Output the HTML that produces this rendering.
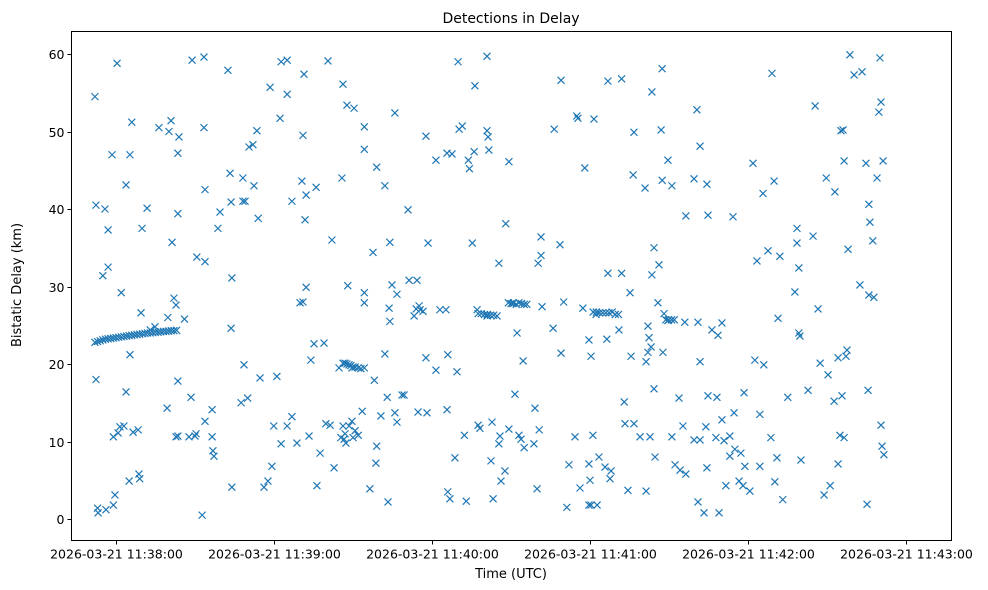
<!DOCTYPE html>
<html><head><meta charset="utf-8"><title>Detections in Delay</title>
<style>
html,body{margin:0;padding:0;background:#fff;}
svg{display:block;font-family:"DejaVu Sans","Liberation Sans",sans-serif;}
</style></head>
<body>
<svg id="chart" width="988" height="590" viewBox="0 0 988 590" xmlns="http://www.w3.org/2000/svg">
<rect width="988" height="590" fill="#fff"/>
<text x="511" y="23" text-anchor="middle" font-size="14">Detections in Delay</text>
<text x="511" y="578" text-anchor="middle" font-size="13">Time (UTC)</text>
<text x="0" y="0" transform="translate(21,285) rotate(-90)" text-anchor="middle" font-size="13">Bistatic Delay (km)</text>
<g id="marks"></g>
<g id="axes"></g>
<rect x="71.5" y="31.5" width="880" height="509" fill="none" stroke="#000" stroke-width="1"/>
</svg>
<script>
// Time in seconds relative to 2026-03-21 11:38:00 UTC
const xTickValues=[0,60,120,180,240,300];
const xTickLabels=["2026-03-21 11:38:00","2026-03-21 11:39:00","2026-03-21 11:40:00","2026-03-21 11:41:00","2026-03-21 11:42:00","2026-03-21 11:43:00"];
const yTickValues=[0,10,20,30,40,50,60];
const yTickLabels=["0","10","20","30","40","50","60"];
const times=[
-8,-7.6,-7.6,-7,-6.8,-5,-4.2,-3,-3,-3.8,-1,-1,0.4,-0.4,2,3.8,3.8,5.3,6,5,-1.5,5.3,6.5,8.4,8.7,9,9.9,11.8,9.5,1.5,3,0.8,
-8,-7,-6,-5,-4,-3,-2,-1,0,1,2,3,4,5,6,7,8,9,10,11,12,13,14,15,16,17,18,19,20,21,22,23,13,
14.8,16.3,19.4,20.9,23.5,23.9,20.1,21.3,22,22.8,23.5,23.5,26,19.7,22.8,23.5,27.7,28.5,28.9,30,30.4,30.7,32.7,33.4,33.4,33.8,33.8,33.8,36.5,36.5,36.8,37.2,38.7,39.5,42.5,43.3,43.7,44,44,43.7,47.5,48.2,48.2,49,48.6,50,50.5,52,52.4,53.5,54,54.7,56.2,57.7,58.5,59.2,59.9,
61.1,62.3,62.7,62.7,65,65,65,66.8,66.8,68.7,69.9,70.6,71,71,71.8,72.2,72.2,71.4,73.3,74,75.2,76,76.3,77.5,79,79.7,80.5,81.3,82,82.8,84.7,85.8,86.2,86.2,86.6,87,87.3,87.7,88,88.5,90,90.4,90.8,89.6,92,93.5,94.3,94.3,94.3,94.3,96.4,97.6,98.1,99,99,98.7,100.6,102.1,102.1,103,103.3,104,104,103.7,104.8,105.9,105.9,106.7,106.7,108.6,109.4,110.9,111.3,113.2,114,114.3,114.7,115.1,115.5,116.6,117.7,117.7,118.1,118.5,
85.4,86.2,87,87.7,88.5,89.2,90,90.8,92,93,94.3,89.6,
121.5,121.5,123,125.3,125.7,125.7,126,126,126.8,127.6,128.7,129.5,129.9,130.3,131.5,132.3,133,133.8,134.2,135.3,136,137.1,137.5,138.2,
136.3,137.5,138.7,139.9,141,142.2,143.4,144.7,
140.9,140.9,140.9,141.3,141.6,142.4,142.8,143.2,145.4,145.4,146.2,145.8,147.7,149.2,149.2,
148,149,150,151,152,153,154,155,156,
150.7,151.5,152.3,153,153.8,155,154.6,158.7,159.1,159.9,160.3,160.7,161.4,161.4,161.8,166,166.4,168.6,169,169,170,171.2,172,174.3,175,175.4,176.2,177.3,178,179.6,179.6,180.4,181.1,181.5,179.6,180.4,
180,181.2,182.4,183.6,184.8,186,187.2,188.4,189.6,190.8,
182.3,183.4,182.7,
185.7,186.4,186.8,186.8,187.6,188,191,192,192,193,193.3,194.4,195.2,195.6,196.4,196.7,196.7,199,200.9,201.3,201.3,202,202,202.4,202.8,203.2,203.5,203.5,204.3,204.3,204.7,205.8,206.2,207,208.1,207.4,207.4,
207.7,208.8,209.9,211,212,
209.6,209.6,211.1,211.1,212.3,213.8,214.2,215.3,216.4,216,216.4,219.5,219.5,220.6,221,221,221.8,221.8,221.8,223.3,224,224.4,224.4,224.8,224.8,226.3,227.8,228.2,228.6,229,230.1,230.1,230.9,231.6,233.1,233.1,234.3,234.7,235,236.6,237.3,238.1,238.5,238.8,240.7,
241.9,242.6,243.4,244.5,244.5,245.7,246,247.6,248.7,249.1,250.2,249.9,251,251.4,252.1,253.2,255.1,257.8,258.6,258.6,259.3,259.3,259.7,260.1,262.8,264.7,265.5,266.6,267.4,268.9,269.7,271.2,270.4,272.7,273,274.2,274.2,274.9,275.3,275.7,276.5,276.1,276.5,277.6,277.2,278,278.7,280.3,282.5,283.3,284.8,285.2,285.6,285.9,285.9,286.3,287.4,287.8,289,289.7,290.1,290.5,290.5,290.9,291.3,291.6
];
const delays=[
54.5,40.5,18,1.4,0.8,31.4,40,37.3,32.5,1.2,1.8,10.6,58.8,3.1,29.2,43.1,16.4,47,51.2,4.9,47,21.2,11.2,11.5,5.8,5.2,37.5,40.1,26.6,11.9,12,11.1,
22.8,22.9,23,23.1,23.2,23.25,23.3,23.35,23.4,23.45,23.5,23.55,23.6,23.65,23.7,23.75,23.8,23.85,23.9,23.95,24,24,24.05,24.1,24.1,24.15,24.2,24.2,24.25,24.3,24.3,24.35,24.4,24.8,
50.5,14.3,51.4,47.2,49.3,50,35.7,28.5,27.6,39.4,17.8,25.8,26,10.6,10.7,10.6,15.7,59.2,10.7,11,33.8,0.5,59.6,50.5,42.5,33.2,12.6,14.1,10.6,8.8,8.1,37.5,39.6,57.9,44.6,24.6,31.1,4.1,40.9,15,41,44,41,19.9,15.6,48,48.3,43,50.1,38.8,18.2,4.1,4.9,55.7,6.8,12,18.4,
51.7,59,9.7,12,54.8,59.2,13.2,41,9.8,27.9,43.6,49.5,28,38.6,41.8,29.9,57.4,10.7,20.5,22.6,42.8,4.3,8.5,22.7,12.3,59.1,12.1,36,6.6,19.5,44,56.1,12,10.3,11,9.8,53.4,30.1,12,10.5,53,11.4,12.6,10.8,13.9,47.7,50.6,29.2,27.9,3.9,34.4,17.9,45.4,9.4,7.2,13.3,21.3,43,15.7,2.2,35.7,25.5,27.2,30.2,13.7,52.4,29,12.5,16,16,39.9,30.8,26.2,27.1,30.8,13.8,27.5,27,26.8,20.8,49.4,13.7,35.6,10.5,
20.1,20.1,20,19.9,19.8,19.6,19.6,19.5,19.4,19.5,19.5,19.2,
46.3,27,27,47.2,14.1,21.2,3.5,2.6,47.1,7.9,19,59,50.3,50.7,10.8,2.3,46.3,45.2,35.6,47.4,27,12.1,11.7,55.9,
26.5,26.5,26.4,26.4,26.3,26.3,26.2,26.2,
59.7,50.1,49.3,47.6,7.5,12.5,2.6,33,9.7,4.9,10.7,6.2,11.6,46.1,38.1,
27.9,27.8,27.9,27.7,27.9,27.8,27.7,27.7,27.8,
16.1,24,10.8,10.3,9.2,20.4,9.7,14.3,3.9,33,11.5,34,36.4,27.4,24.6,50.3,35.4,56.6,21.4,28,1.5,7,10.6,52,51.7,4,27.2,45.3,23.1,7.1,21,10.8,51.6,1.8,1.8,5,
26.7,26.7,26.6,26.6,26.6,26.6,26.7,26.4,26.4,26.4,
8,1.8,6.7,
23.2,31.7,56.5,5.2,6.2,24.4,31.7,56.8,15.1,12.3,3.7,29.2,21,44.4,49.9,12.3,10.6,42.7,20.3,3.6,21.5,24.9,23.4,10.6,22.2,55.1,31.5,35,16.8,8,27.9,32.8,50.2,26.5,58.1,43.7,21.5,
25.7,25.7,25.7,25.7,25.6,
46.3,10.6,43,7,15.6,6.3,12,39.1,25.4,5.8,10.2,43.9,52.8,2.2,25.4,10.2,48.1,20.3,0.8,11.9,43.2,6.6,15.9,39.2,24.4,10.5,15.7,23.7,0.8,12.8,25.3,10.1,4.3,8.1,10.7,39,13.7,9,4.9,8.5,4.3,16.3,6.8,3.6,45.9,
20.5,33.3,13.5,6.8,42,19.9,34.6,10.5,57.5,4.8,43.6,7.9,25.9,33.9,2.5,15.7,29.3,37.5,35.6,24,32.4,23.6,7.6,16.6,36.5,53.3,27.1,20.1,3.1,44,4.3,18.6,15.2,42.2,20.8,7.1,10.8,50.1,15.9,10.5,50.2,46.2,21.8,21,34.8,59.9,57.3,30.2,57.7,45.9,1.9,16.6,28.9,40.6,38.3,35.9,28.6,44,52.5,59.5,12.1,53.8,9.4,46.2,8.3,29.9
];
const NS="http://www.w3.org/2000/svg";
const L=71.5,R=951.5,T=31.5,B=540.5;
const xScale=t=>116+t*158/60;
const yScale=d=>519-d*7.75;
const marks=document.getElementById('marks');
const axes=document.getElementById('axes');
const n=Math.min(times.length,delays.length);
for(let i=0;i<n;i++){
  const x=xScale(times[i]),y=yScale(delays[i]),s=3.5;
  const p=document.createElementNS(NS,'path');
  p.setAttribute('d',`M${x-s},${y-s}L${x+s},${y+s}M${x-s},${y+s}L${x+s},${y-s}`);
  p.setAttribute('stroke','#1f77b4');
  p.setAttribute('stroke-width','1.2');
  p.setAttribute('fill','none');
  
  
  marks.appendChild(p);
}
xTickValues.forEach((v,i)=>{
  const x=Math.round(xScale(v))+0.5;
  const l=document.createElementNS(NS,'line');
  l.setAttribute('x1',x);l.setAttribute('x2',x);l.setAttribute('y1',B);l.setAttribute('y2',B+4);
  l.setAttribute('stroke','#000');
  
  
  axes.appendChild(l);
  const t=document.createElementNS(NS,'text');
  t.setAttribute('x',x);t.setAttribute('y',B+18);t.setAttribute('text-anchor','middle');t.setAttribute('font-size','12.5');
  t.textContent=xTickLabels[i];
  
  
  axes.appendChild(t);
});
yTickValues.forEach((v,i)=>{
  const y=Math.round(yScale(v))+0.5;
  const l=document.createElementNS(NS,'line');
  l.setAttribute('x1',L-4);l.setAttribute('x2',L);l.setAttribute('y1',y);l.setAttribute('y2',y);
  l.setAttribute('stroke','#000');
  
  
  axes.appendChild(l);
  const t=document.createElementNS(NS,'text');
  t.setAttribute('x',L-7);t.setAttribute('y',y+4.5);t.setAttribute('text-anchor','end');t.setAttribute('font-size','12.5');
  t.textContent=yTickLabels[i];
  
  
  axes.appendChild(t);
});
</script>
</body></html>
